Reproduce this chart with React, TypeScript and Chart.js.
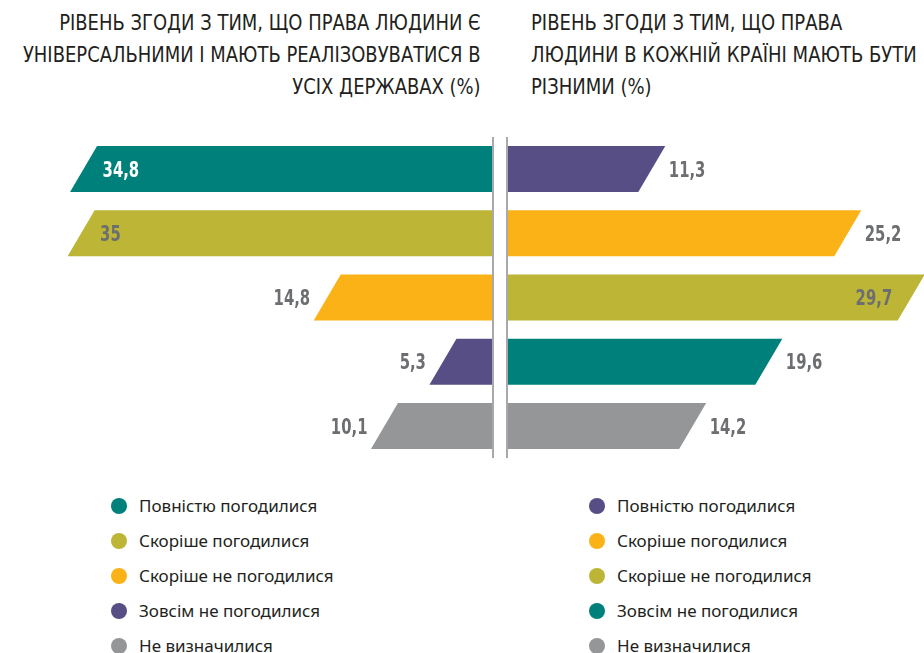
import React, { useEffect, useRef } from "react";
import { Chart, registerables } from "chart.js";

Chart.register(...registerables);

const TEAL = "#00807a";
const OLIVE = "#bcb535";
const ORANGE = "#fbb217";
const PURPLE = "#574e86";
const GRAY = "#959698";

const categories = [
  "Повністю погодилися",
  "Скоріше погодилися",
  "Скоріше не погодилися",
  "Зовсім не погодилися",
  "Не визначилися",
];

const universalValues = [34.8, 35, 14.8, 5.3, 10.1];
const differentValues = [11.3, 25.2, 29.7, 19.6, 14.2];

const universalColors = [TEAL, OLIVE, ORANGE, PURPLE, GRAY];
const differentColors = [PURPLE, ORANGE, OLIVE, TEAL, GRAY];

const universalTitle = [
  "РІВЕНЬ ЗГОДИ З ТИМ, ЩО ПРАВА ЛЮДИНИ Є",
  "УНІВЕРСАЛЬНИМИ І МАЮТЬ РЕАЛІЗОВУВАТИСЯ В",
  "УСІХ ДЕРЖАВАХ (%)",
];
const differentTitle = [
  "РІВЕНЬ ЗГОДИ З ТИМ, ЩО ПРАВА",
  "ЛЮДИНИ В КОЖНІЙ КРАЇНІ МАЮТЬ БУТИ",
  "РІЗНИМИ (%)",
];

const NARROW = '"Liberation Sans Narrow", "DejaVu Sans Condensed", Roboto, sans-serif';
const LABEL_GRAY = "#6d6e71";
const TEXT = "#231f20";

function fmt(v: number) {
  return String(v).replace(".", ",");
}

function isDark(hex: string) {
  const n = parseInt(hex.slice(1), 16);
  const r = (n >> 16) & 255, g = (n >> 8) & 255, b = n & 255;
  return 0.299 * r + 0.587 * g + 0.114 * b < 120;
}

const slantBars = {
  id: "slantBars",
  beforeDatasetsDraw(chart: any, _args: any, opts: any) {
    const ctx = chart.ctx as CanvasRenderingContext2D;
    const meta = chart.getDatasetMeta(0);
    const ds = chart.data.datasets[0];
    const area = chart.chartArea;
    const s = opts.slant ?? 27;
    ctx.save();
    meta.data.forEach((bar: any, i: number) => {
      const { x, y, base, height } = bar.getProps(["x", "y", "base", "height"], true);
      const top = y - height / 2;
      const bottom = y + height / 2;
      const dir = x >= base ? 1 : -1;
      let xt: number, xb: number;
      if (dir > 0) {
        xt = x;
        xb = x - s;
      } else {
        xb = x;
        xt = x + s;
      }
      const color = ds.backgroundColor[i];
      ctx.fillStyle = color;
      ctx.beginPath();
      ctx.moveTo(base, top);
      ctx.lineTo(xt, top);
      ctx.lineTo(xb, bottom);
      ctx.lineTo(base, bottom);
      ctx.closePath();
      ctx.fill();

      const value = ds.data[i] as number;
      const mid = (xt + xb) / 2;
      const inside = value >= opts.insideFrom;
      ctx.font = `bold 22px ${NARROW}`;
      ctx.textBaseline = "middle";
      let tx: number;
      if (inside) {
        ctx.fillStyle = isDark(color) ? "#ffffff" : LABEL_GRAY;
        tx = mid - dir * 19;
        ctx.textAlign = dir > 0 ? "right" : "left";
      } else {
        ctx.fillStyle = LABEL_GRAY;
        tx = mid + dir * 17;
        ctx.textAlign = dir > 0 ? "left" : "right";
      }
      ctx.save();
      ctx.translate(tx, y + 2);
      ctx.scale(0.75, 1);
      ctx.fillText(fmt(value), 0, 0);
      ctx.restore();
    });
    // center axis line
    const lx = opts.side === "left" ? area.right - 1 : area.left + 1;
    ctx.strokeStyle = "#a7a9ac";
    ctx.lineWidth = 2;
    ctx.beginPath();
    ctx.moveTo(lx, area.top);
    ctx.lineTo(lx, area.bottom);
    ctx.stroke();
    ctx.restore();
    return false;
  },
};

function BarPanel(props: {
  values: number[];
  colors: string[];
  side: "left" | "right";
  max: number;
  insideFrom: number;
}) {
  const ref = useRef<HTMLCanvasElement>(null);
  useEffect(() => {
    if (!ref.current) return;
    const chart = new Chart(ref.current, {
      type: "bar",
      data: {
        labels: categories,
        datasets: [
          {
            data: props.values,
            backgroundColor: props.colors,
            barPercentage: 0.716,
            categoryPercentage: 1,
          },
        ],
      },
      options: {
        indexAxis: "y",
        animation: false,
        responsive: true,
        maintainAspectRatio: false,
        layout: { padding: 0 },
        scales: {
          x: {
            display: false,
            min: 0,
            max: props.max,
            reverse: props.side === "left",
          },
          y: { display: false, offset: true },
        },
        plugins: {
          legend: { display: false },
          tooltip: { enabled: false },
          slantBars: { side: props.side, insideFrom: props.insideFrom, slant: 27 },
        } as any,
      },
      plugins: [slantBars as any],
    });
    return () => chart.destroy();
  }, []);
  return <canvas ref={ref} />;
}

function Legend(props: { colors: string[]; left: number }) {
  return (
    <div style={{ position: "absolute", left: props.left, top: 488 }}>
      {categories.map((c, i) => (
        <div
          key={c}
          style={{ display: "flex", alignItems: "center", height: 35 }}
        >
          <span
            style={{
              display: "inline-block",
              width: 16,
              height: 16,
              borderRadius: "50%",
              background: props.colors[i],
              marginRight: 12,
            }}
          />
          <span
            style={{
              fontFamily: '"Noto Sans", sans-serif',
              fontSize: 17,
              color: TEXT,
              whiteSpace: "nowrap",
            }}
          >
            {c}
          </span>
        </div>
      ))}
    </div>
  );
}

export default function App() {
  const titleStyle: React.CSSProperties = {
    position: "absolute",
    top: 7,
    fontFamily: NARROW,
    fontSize: 22,
    lineHeight: "32px",
    color: TEXT,
    whiteSpace: "nowrap",
  };
  return (
    <div
      style={{
        position: "absolute",
        left: 0,
        top: 0,
        width: 924,
        height: 653,
        background: "#ffffff",
        overflow: "hidden",
      }}
    >
      <div
        style={{
          ...titleStyle,
          right: 924 - 481,
          textAlign: "right",
          transform: "scaleX(0.907)",
          transformOrigin: "right top",
        }}
      >
        {universalTitle.map((l) => (
          <div key={l}>{l}</div>
        ))}
      </div>
      <div
        style={{
          ...titleStyle,
          left: 531,
          textAlign: "left",
          transform: "scaleX(0.91)",
          transformOrigin: "left top",
        }}
      >
        {differentTitle.map((l) => (
          <div key={l}>{l}</div>
        ))}
      </div>
      <div style={{ position: "absolute", left: 0, top: 137, width: 494, height: 321 }}>
        <BarPanel values={universalValues} colors={universalColors} side="left" max={40.55} insideFrom={30} />
      </div>
      <div style={{ position: "absolute", left: 506, top: 137, width: 418, height: 321 }}>
        <BarPanel values={differentValues} colors={differentColors} side="right" max={29.65} insideFrom={28} />
      </div>
      <Legend colors={universalColors} left={111} />
      <Legend colors={differentColors} left={589} />
    </div>
  );
}
